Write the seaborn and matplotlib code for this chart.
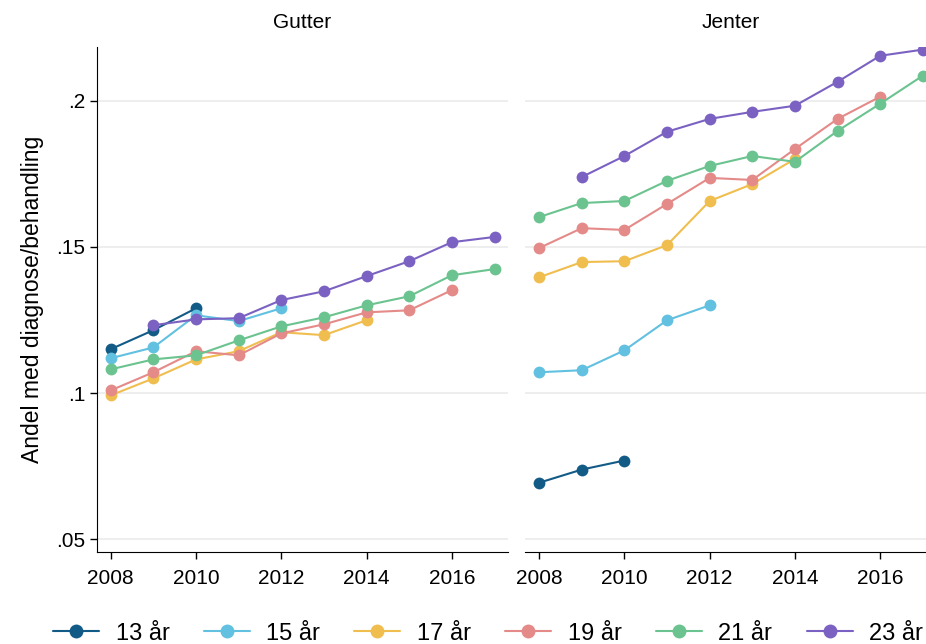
import numpy as np
import pandas as pd
import seaborn as sns
from matplotlib import pyplot as plt
from matplotlib.lines import Line2D

groups = ["13 år", "15 år", "17 år", "19 år", "21 år", "23 år"]
colors = ["#135b87", "#62c0e0", "#f0be4f", "#e48a89", "#6bc38f", "#7b62c2"]
panels = ["Gutter", "Jenter"]

# first year of each series (same for both panels)
start_year = {"13 år": 2008, "15 år": 2008, "17 år": 2008, "19 år": 2008, "21 år": 2008, "23 år": 2009}

gutter = {
    "13 år": [0.1150, 0.1215, 0.1290],
    "15 år": [0.1119, 0.1156, 0.1266, 0.1246, 0.1290],
    "17 år": [0.0992, 0.1050, 0.1115, 0.1143, 0.1208, 0.1198, 0.1249],
    "19 år": [0.1009, 0.1071, 0.1143, 0.1129, 0.1204, 0.1235, 0.1276, 0.1283, 0.1352],
    "21 år": [0.1081, 0.1115, 0.1129, 0.1180, 0.1228, 0.1259, 0.1300, 0.1331, 0.1403, 0.1424],
    "23 år": [0.1232, 0.1252, 0.1256, 0.1318, 0.1348, 0.1400, 0.1451, 0.1516, 0.1534],
}
jenter = {
    "13 år": [0.0693, 0.0738, 0.0769],
    "15 år": [0.1071, 0.1078, 0.1146, 0.1249, 0.1300],
    "17 år": [0.1396, 0.1448, 0.1451, 0.1506, 0.1657, 0.1715, 0.1801],
    "19 år": [0.1496, 0.1564, 0.1558, 0.1647, 0.1736, 0.1729, 0.1835, 0.1938, 0.2014],
    "21 år": [0.1602, 0.1650, 0.1657, 0.1726, 0.1777, 0.1811, 0.1791, 0.1897, 0.1990, 0.2086],
    "23 år": [0.1739, 0.1811, 0.1894, 0.1938, 0.1962, 0.1983, 0.2065, 0.2154, 0.2175],
}

rows = []
for panel, d in zip(panels, [gutter, jenter]):
    for g in groups:
        for i, v in enumerate(d[g]):
            rows.append({"panel": panel, "group": g, "year": start_year[g] + i, "value": v})
df = pd.DataFrame(rows)

sns.set_style("white", {"text.color": "black", "axes.labelcolor": "black",
                        "xtick.color": "black", "ytick.color": "black"})
plt.rcParams["font.family"] = ["Liberation Sans", "DejaVu Sans"]

fig = plt.figure(figsize=(9.26, 6.44), dpi=100)
ax1 = fig.add_axes([0.1044, 0.1424, 0.4439, 0.7851])
ax2 = fig.add_axes([0.5670, 0.1424, 0.4439, 0.7851])

for ax, panel in zip([ax1, ax2], panels):
    sns.lineplot(data=df[df["panel"] == panel], x="year", y="value", hue="group",
                 hue_order=groups, palette=colors, marker="o", markersize=8.5,
                 markeredgewidth=0, linewidth=1.5, legend=False, ax=ax)
    ax.set_xlim(2007.67, 2017.31)
    ax.set_ylim(0.0455, 0.2185)
    ax.set_yticks([0.05, 0.1, 0.15, 0.2])
    ax.set_xticks([2008, 2010, 2012, 2014, 2016])
    ax.yaxis.grid(True, color="#ebebeb", linewidth=1.2)
    ax.set_axisbelow(True)
    ax.set_title(panel, fontsize=15, pad=13.5, color="black")
    ax.set_xlabel("")
    for s in ["top", "right"]:
        ax.spines[s].set_visible(False)
    ax.spines["bottom"].set_color("black")
    ax.tick_params(axis="x", bottom=True, length=5, width=1, labelsize=15, pad=7, colors="black")

ax1.set_yticklabels([".05", ".1", ".15", ".2"])
ax1.spines["left"].set_color("black")
ax1.tick_params(axis="y", left=True, length=5, width=1, labelsize=15, pad=3, colors="black")
ax1.set_ylabel("Andel med diagnose/behandling", fontsize=16.5, labelpad=9, color="black")
ax2.spines["left"].set_visible(False)
ax2.tick_params(axis="y", left=False, labelleft=False)
ax2.set_ylabel("")

handles = [Line2D([0], [0], color=c, marker="o", markersize=10, markeredgewidth=0, linewidth=1.5)
           for c in colors]
fig.legend(handles, groups, loc="lower center", bbox_to_anchor=(0.527, -0.034), ncol=6,
           frameon=False, fontsize=17, handlelength=1.95, columnspacing=1.45, handletextpad=0.7,
           labelcolor="black")

plt.savefig("out.png", dpi=100)
